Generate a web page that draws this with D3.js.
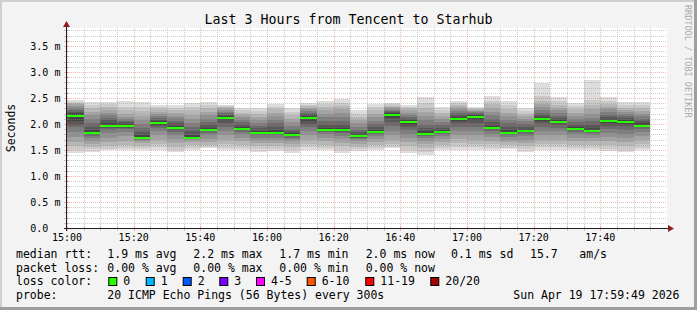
<!DOCTYPE html>
<html>
<head>
  <script src="https://d3js.org/d3.v7.min.js"></script>
  <style>
  body { margin: 0; background: #fff; }
  text { font-family: "DejaVu Sans Mono", monospace; fill: #000; }
  </style>
</head>
<body>
  <script>
  var w = 697;
  var h = 310;

  //Plot area (rrdtool canvas)
  var plotL = 67, plotR = 667, plotT = 28, plotB = 228;

  var title = "Last 3 Hours from Tencent to Starhub";
  var startTime = new Date(2026, 3, 19, 15, 0);
  var endTime = new Date(2026, 3, 19, 18, 0);
  var stepMin = 5;

  //Median rtt of every 5 minute step, ms
  var medians = [2.15, 1.83, 1.97, 1.97, 1.74, 2.01, 1.93, 1.74, 1.89, 2.12,
                 1.91, 1.83, 1.83, 1.78, 2.12, 1.88, 1.88, 1.76, 1.85, 2.18,
                 2.03, 1.81, 1.85, 2.10, 2.14, 1.92, 1.83, 1.87, 2.10, 2.04,
                 1.90, 1.87, 2.06, 2.04, 1.97];

  //The 20 pings of every step, sorted, ms
  var pings = [
    [1.44,1.50,1.58,1.65,1.75,1.85,1.94,1.98,2.06,2.13,2.17,2.21,2.23,2.27,2.31,2.35,2.38,2.40,2.43,2.46],
    [1.47,1.51,1.56,1.62,1.68,1.73,1.77,1.80,1.81,1.82,1.84,1.88,1.95,2.02,2.10,2.17,2.24,2.30,2.36,2.43],
    [1.50,1.52,1.58,1.66,1.74,1.82,1.88,1.92,1.94,1.96,1.98,2.02,2.07,2.12,2.17,2.22,2.27,2.32,2.38,2.43],
    [1.50,1.53,1.60,1.68,1.76,1.84,1.90,1.93,1.95,1.96,1.98,2.00,2.03,2.06,2.10,2.14,2.20,2.27,2.33,2.44],
    [1.50,1.53,1.58,1.63,1.67,1.70,1.72,1.73,1.74,1.74,1.75,1.78,1.84,1.92,2.00,2.08,2.16,2.25,2.33,2.42],
    [1.50,1.55,1.62,1.70,1.78,1.86,1.93,1.97,1.99,2.00,2.02,2.05,2.08,2.12,2.16,2.20,2.24,2.28,2.32,2.37],
    [1.47,1.50,1.56,1.64,1.72,1.79,1.85,1.89,1.91,1.92,1.94,1.97,2.01,2.06,2.11,2.16,2.21,2.26,2.31,2.37],
    [1.50,1.54,1.60,1.65,1.69,1.71,1.72,1.73,1.73,1.74,1.75,1.79,1.86,1.94,2.02,2.10,2.18,2.26,2.33,2.40],
    [1.53,1.55,1.60,1.66,1.72,1.78,1.83,1.86,1.87,1.88,1.90,1.93,1.98,2.04,2.10,2.17,2.24,2.30,2.36,2.42],
    [1.50,1.54,1.62,1.70,1.78,1.86,1.94,2.02,2.08,2.11,2.13,2.15,2.18,2.21,2.24,2.27,2.30,2.32,2.35,2.37],
    [1.50,1.54,1.60,1.67,1.74,1.80,1.85,1.88,1.89,1.90,1.92,1.95,1.99,2.03,2.08,2.13,2.18,2.22,2.26,2.30],
    [1.47,1.51,1.57,1.63,1.69,1.74,1.78,1.80,1.81,1.82,1.84,1.87,1.92,1.97,2.02,2.08,2.14,2.20,2.25,2.30],
    [1.48,1.51,1.57,1.63,1.69,1.74,1.78,1.80,1.82,1.83,1.84,1.88,1.94,2.01,2.08,2.15,2.22,2.28,2.33,2.38],
    [1.45,1.50,1.56,1.62,1.67,1.71,1.74,1.76,1.77,1.78,1.79,1.82,1.86,1.91,1.97,2.03,2.10,2.17,2.24,2.30],
    [1.50,1.55,1.62,1.70,1.78,1.86,1.94,2.00,2.05,2.10,2.13,2.16,2.19,2.22,2.25,2.28,2.31,2.34,2.37,2.40],
    [1.50,1.54,1.60,1.67,1.74,1.80,1.84,1.86,1.87,1.88,1.89,1.93,1.99,2.06,2.13,2.20,2.27,2.33,2.39,2.45],
    [1.44,1.50,1.57,1.64,1.71,1.77,1.82,1.85,1.87,1.88,1.89,1.93,1.99,2.06,2.13,2.21,2.28,2.35,2.41,2.48],
    [1.48,1.51,1.56,1.62,1.67,1.71,1.73,1.74,1.75,1.76,1.77,1.80,1.84,1.89,1.95,2.01,2.07,2.13,2.20,2.27],
    [1.50,1.54,1.60,1.66,1.72,1.77,1.81,1.83,1.84,1.85,1.86,1.89,1.94,2.00,2.06,2.13,2.20,2.26,2.32,2.38],
    [1.53,1.56,1.62,1.70,1.78,1.87,1.96,2.04,2.11,2.16,2.19,2.21,2.23,2.25,2.27,2.30,2.32,2.35,2.38,2.40],
    [1.44,1.50,1.57,1.65,1.73,1.81,1.89,1.95,1.99,2.02,2.04,2.07,2.10,2.14,2.18,2.22,2.26,2.30,2.33,2.37],
    [1.40,1.47,1.54,1.61,1.68,1.73,1.77,1.79,1.80,1.81,1.82,1.86,1.92,1.99,2.07,2.15,2.23,2.31,2.40,2.51],
    [1.50,1.54,1.60,1.66,1.72,1.77,1.81,1.83,1.84,1.85,1.86,1.89,1.93,1.98,2.03,2.09,2.15,2.21,2.27,2.33],
    [1.50,1.55,1.63,1.71,1.79,1.87,1.95,2.01,2.06,2.09,2.11,2.14,2.17,2.21,2.25,2.29,2.33,2.37,2.40,2.44],
    [1.50,1.55,1.62,1.70,1.78,1.86,1.94,2.01,2.07,2.12,2.15,2.17,2.19,2.21,2.23,2.25,2.27,2.29,2.31,2.33],
    [1.50,1.54,1.61,1.68,1.75,1.81,1.86,1.89,1.91,1.92,1.93,1.97,2.03,2.10,2.17,2.24,2.31,2.38,2.45,2.54],
    [1.52,1.54,1.59,1.65,1.70,1.75,1.79,1.81,1.82,1.83,1.84,1.88,1.94,2.01,2.08,2.15,2.22,2.29,2.36,2.44],
    [1.47,1.51,1.57,1.64,1.70,1.76,1.81,1.84,1.86,1.87,1.88,1.91,1.95,2.00,2.05,2.10,2.15,2.20,2.25,2.31],
    [1.50,1.55,1.62,1.70,1.78,1.86,1.94,2.01,2.06,2.09,2.11,2.14,2.18,2.22,2.27,2.32,2.38,2.45,2.53,2.79],
    [1.50,1.55,1.62,1.70,1.78,1.86,1.93,1.98,2.01,2.03,2.05,2.08,2.12,2.16,2.21,2.26,2.31,2.37,2.44,2.51],
    [1.50,1.54,1.60,1.67,1.74,1.80,1.85,1.88,1.89,1.90,1.91,1.94,1.99,2.04,2.10,2.16,2.22,2.28,2.34,2.40],
    [1.50,1.54,1.60,1.67,1.73,1.79,1.83,1.85,1.86,1.87,1.88,1.92,1.98,2.05,2.12,2.20,2.28,2.37,2.47,2.85],
    [1.48,1.52,1.59,1.67,1.75,1.83,1.91,1.97,2.02,2.05,2.07,2.10,2.14,2.18,2.23,2.28,2.33,2.39,2.45,2.51],
    [1.46,1.50,1.57,1.65,1.73,1.81,1.89,1.96,2.00,2.03,2.05,2.08,2.11,2.15,2.19,2.23,2.27,2.31,2.36,2.42],
    [1.50,1.54,1.61,1.69,1.77,1.84,1.90,1.94,1.96,1.97,1.98,2.01,2.05,2.10,2.15,2.20,2.25,2.30,2.36,2.42]
  ];

  //Axis labels
  var xLabels = ["15:00","15:20","15:40","16:00","16:20","16:40","17:00","17:20","17:40"];
  var yTickValues = [0, 0.5, 1.0, 1.5, 2.0, 2.5, 3.0, 3.5];

  //Legend texts
  var rttStats = ["1.9 ms avg", "2.2 ms max", "1.7 ms min", "2.0 ms now", "0.1 ms sd"];
  var amsValue = "15.7";
  var lossStats = ["0.00 % avg", "0.00 % max", "0.00 % min", "0.00 % now"];
  var lossLabels = ["0", "1", "2", "3", "4-5", "6-10", "11-19", "20/20"];
  var lossColors = ["#26ff00", "#00b8ff", "#0059ff", "#7e00ff", "#ff00ff", "#ff5500", "#ff0000", "#a00000"];
  var probeText = "20 ICMP Echo Pings (56 Bytes) every 300s";
  var stamp = "Sun Apr 19 17:59:49 2026";

  var x = d3.scaleTime().domain([startTime, endTime]).range([plotL, plotR]);
  var y = d3.scaleLinear().domain([0, 200 / 52]).range([plotB, plotT]);
  var parseHM = d3.timeParse("%Y-%m-%d %H:%M");

  var minorCol = "rgba(143,143,143,0.45)";
  var majorCol = "rgba(222,79,79,0.4)";

  var svg = d3.select("body")
    .append("svg")
    .attr("width", w)
    .attr("height", h);

  //Background and 3d frame
  svg.append("rect").attr("width", w).attr("height", h).attr("fill", "#f3f3f3");
  svg.append("path").attr("d", "M0,0H" + w + "V2H2V" + h + "H0Z").attr("fill", "#cfcfcf");
  svg.append("path")
    .attr("d", "M" + w + ",0V" + h + "H0V" + (h - 3) + "H" + (w - 3) + "V0Z")
    .attr("fill", "#9e9e9e");

  //Canvas
  svg.append("rect")
    .attr("x", plotL).attr("y", plotT)
    .attr("width", plotR - plotL).attr("height", plotB - plotT)
    .attr("fill", "#fff");

  //Smoke: nested bands between ping k and ping n-1-k, darker to the middle
  var smoke = svg.append("g").attr("shape-rendering", "crispEdges");
  pings.forEach(function(p, i){
    var t0 = d3.timeMinute.offset(startTime, i * stepMin);
    var t1 = d3.timeMinute.offset(startTime, (i + 1) * stepMin);
    var half = p.length / 2;
    for (var k = 0; k < half; k++){
      var g = Math.floor(190 / half * (half - (k + 1))) + 50;
      smoke.append("rect")
        .attr("x", x(t0))
        .attr("width", x(t1) - x(t0))
        .attr("y", y(p[p.length - 1 - k]))
        .attr("height", y(p[k]) - y(p[p.length - 1 - k]))
        .attr("fill", d3.rgb(g, g, g));
    }
  });

  //Grid on top of the smoke
  var grid = svg.append("g").attr("shape-rendering", "crispEdges");
  var yMinor = d3.range(1, 39).map(function(d){ return d / 10; });
  yMinor.forEach(function(v){
    var major = Math.abs(v * 2 - Math.round(v * 2)) < 1e-6;
    var py = Math.round(y(v)) + 0.5;
    grid.append("line")
      .attr("x1", plotL).attr("x2", plotR)
      .attr("y1", py).attr("y2", py)
      .attr("stroke", major ? majorCol : minorCol)
      .attr("stroke-dasharray", "1,1");
    //small tick on the axis
    grid.append("line")
      .attr("x1", plotL - 3).attr("x2", plotL + 2)
      .attr("y1", py).attr("y2", py)
      .attr("stroke", major ? majorCol : minorCol);
  });
  x.ticks(d3.timeMinute.every(5)).forEach(function(t){
    if (t >= endTime) return;
    var major = t.getMinutes() % 20 == 0;
    var px = Math.round(x(t)) + 0.5;
    grid.append("line")
      .attr("x1", px).attr("x2", px)
      .attr("y1", plotT).attr("y2", plotB)
      .attr("stroke", major ? majorCol : minorCol)
      .attr("stroke-dasharray", "1,1");
    grid.append("line")
      .attr("x1", px).attr("x2", px)
      .attr("y1", plotB - 2).attr("y2", plotB + 3)
      .attr("stroke", major ? majorCol : minorCol);
  });

  //Median line, coloured by loss
  svg.append("g")
    .attr("shape-rendering", "crispEdges")
    .selectAll("rect")
    .data(medians)
    .enter()
    .append("rect")
      .attr("x", function(d, i){ return x(d3.timeMinute.offset(startTime, i * stepMin)); })
      .attr("width", function(d, i){
        return x(d3.timeMinute.offset(startTime, (i + 1) * stepMin)) - x(d3.timeMinute.offset(startTime, i * stepMin));
      })
      .attr("y", function(d){ return Math.round(y(d)) - 1; })
      .attr("height", 2)
      .attr("fill", lossColors[0]);

  //Axes with arrows
  svg.append("line")
    .attr("x1", plotL - 3).attr("x2", plotR + 2)
    .attr("y1", plotB + 0.5).attr("y2", plotB + 0.5)
    .attr("stroke", "#1f1f1f");
  svg.append("path")
    .attr("d", "M" + (plotR + 1) + "," + (plotB - 3) + "L" + (plotR + 7) + "," + (plotB + 0.5) + "L" + (plotR + 1) + "," + (plotB + 4) + "Z")
    .attr("fill", "#8f1f1f");
  svg.append("line")
    .attr("x1", plotL - 0.5).attr("x2", plotL - 0.5)
    .attr("y1", plotB + 3).attr("y2", plotT - 3)
    .attr("stroke", "#1f1f1f");
  svg.append("path")
    .attr("d", "M" + (plotL - 4) + "," + (plotT - 1) + "L" + (plotL - 0.5) + "," + (plotT - 7) + "L" + (plotL + 3) + "," + (plotT - 1) + "Z")
    .attr("fill", "#8f1f1f");

  //Tick labels
  svg.append("g")
    .selectAll("text")
    .data(xLabels)
    .enter()
    .append("text")
      .attr("x", function(d){ return x(parseHM("2026-04-19 " + d)); })
      .attr("y", 241)
      .attr("text-anchor", "middle")
      .style("font-size", "10px")
      .text(function(d){ return d; });

  svg.append("g")
    .selectAll("text")
    .data(yTickValues)
    .enter()
    .append("text")
      .attr("x", 30.3)
      .attr("y", function(d){ return y(d) + 3.5; })
      .style("font-size", "10px")
      .text(function(d){ return d == 0 ? "0.0" : d.toFixed(1) + " m"; });

  //Title and side texts
  svg.append("text")
    .attr("x", 348.5).attr("y", 23.5)
    .attr("text-anchor", "middle")
    .style("font-size", "13.3px")
    .text(title);

  svg.append("text")
    .attr("transform", "translate(15," + ((plotT + plotB) / 2) + ") rotate(-90)")
    .attr("text-anchor", "middle")
    .style("font-size", "11.5px")
    .text("Seconds");

  svg.append("text")
    .attr("transform", "translate(684.5,5) rotate(90)")
    .style("font-size", "8.5px")
    .style("fill", "#ababab")
    .text("RRDTOOL / TOBI OETIKER");

  //Legend
  var legend = svg.append("g").style("font-size", "11.5px");
  var rows = [257.8, 271.5, 285.2, 298.9];
  var cols = [107.3, 193.3, 279.3, 365.7, 451];

  legend.append("text").attr("x", 16).attr("y", rows[0]).text("median rtt:");
  rttStats.forEach(function(s, i){
    legend.append("text").attr("x", cols[i]).attr("y", rows[0]).text(s);
  });
  legend.append("text").attr("x", 530).attr("y", rows[0]).text(amsValue);
  legend.append("text").attr("x", 579.3).attr("y", rows[0]).text("am/s");

  legend.append("text").attr("x", 16).attr("y", rows[1]).text("packet loss:");
  lossStats.forEach(function(s, i){
    legend.append("text").attr("x", cols[i]).attr("y", rows[1]).text(s);
  });

  legend.append("text").attr("x", 16).attr("y", rows[2]).text("loss color:");
  var swatchX = [108.3, 145.7, 182.7, 219.3, 256, 306.7, 365.3, 430.3];
  lossLabels.forEach(function(s, i){
    legend.append("rect")
      .attr("x", swatchX[i] + 0.5).attr("y", 277.5)
      .attr("width", 8).attr("height", 8)
      .attr("fill", lossColors[i])
      .attr("stroke", "#000")
      .attr("stroke-width", 1);
    legend.append("text").attr("x", swatchX[i] + 15).attr("y", rows[2]).text(s);
  });

  legend.append("text").attr("x", 16).attr("y", rows[3]).text("probe:");
  legend.append("text").attr("x", 107.3).attr("y", rows[3]).text(probeText);
  legend.append("text").attr("x", 513.3).attr("y", rows[3]).text(stamp);
  </script>
</body>
</html>
